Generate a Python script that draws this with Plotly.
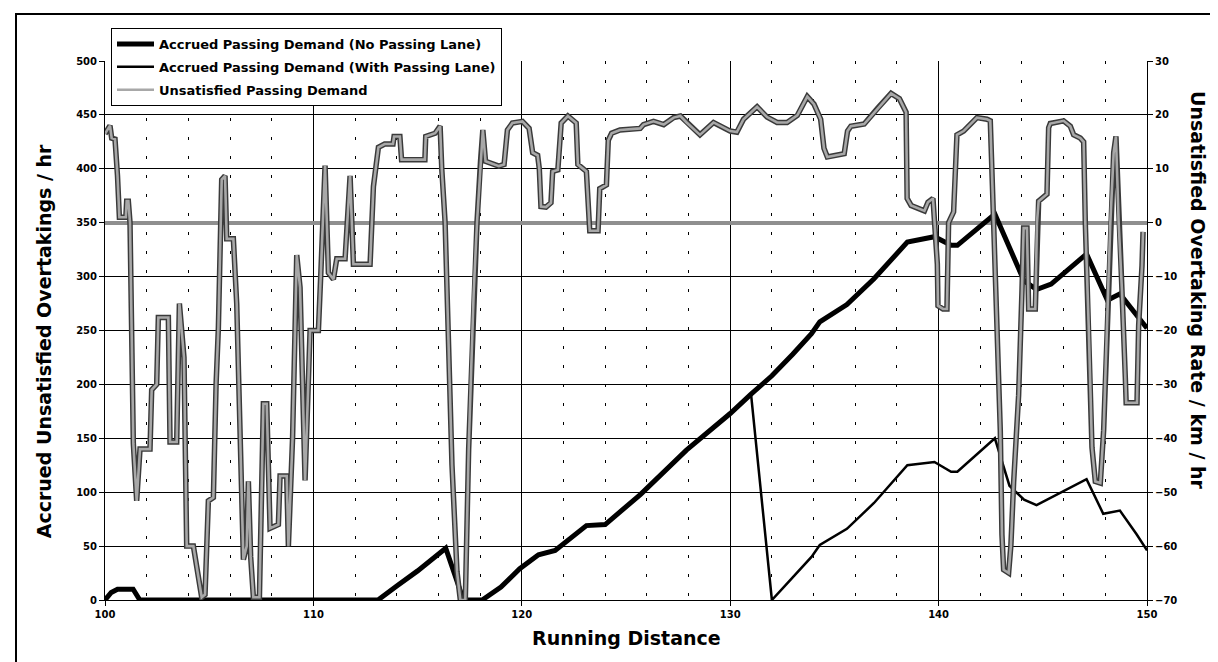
import plotly.graph_objects as go

# ---------------- data ----------------
no_lane_km = [100, 100.3, 100.6, 101.35, 101.67, 113.1, 114, 115, 116.35, 117.2, 118.1,
              119, 119.9, 120.8, 121.6, 122.3, 123.1, 124.0, 125.7, 127.9, 130, 131, 132,
              133, 133.9, 134.3, 135.6, 136.9, 138.5, 139.8, 140.6, 140.9, 142.0, 142.7,
              144.1, 144.7, 145.4, 147.1, 148.1, 148.7, 149.8, 150]
no_lane_demand = [0, 7, 10, 10, 0, 0, 13, 27, 48, 0, 0,
                  12, 29, 42, 46, 57, 69, 70, 98, 139, 173, 191, 208,
                  228, 247, 258, 274, 298, 332, 337, 329, 329, 346, 358,
                  296, 288, 293, 321, 278, 284, 257, 252]

lane_km = [100, 100.3, 100.6, 101.35, 101.67, 113.1, 114, 115, 116.35, 117.2, 118.1,
           119, 119.9, 120.8, 121.6, 122.3, 123.1, 124.0, 125.7, 127.9, 130, 131, 132,
           133, 133.9, 134.3, 135.6, 136.9, 138.5, 139.8, 140.6, 140.9, 142.0, 142.7,
           143.4, 144.1, 144.7, 145.5, 147.1, 147.9, 148.7, 149.5, 150]
lane_demand = [0, 7, 10, 10, 0, 0, 13, 27, 48, 0, 0,
               12, 29, 42, 46, 57, 69, 70, 98, 139, 173, 191, 0,
               21, 40, 51, 66, 90, 125, 128, 119, 119, 138, 150,
               106, 93, 88, 96, 112, 80, 83, 61, 46]

unsat_km = [100.0, 100.08, 100.24, 100.32, 100.48, 100.6, 100.69, 101.0, 101.04, 101.12,
            101.2, 101.36, 101.52, 101.68, 102.16, 102.24, 102.48, 102.56, 103.04, 103.12,
            103.44, 103.57, 103.79, 103.92, 104.24, 104.64, 104.8, 104.96, 105.2, 105.33,
            105.44, 105.6, 105.76, 105.84, 106.16, 106.32, 106.64, 106.8, 106.88, 106.99,
            107.12, 107.41, 107.6, 107.76, 107.92, 108.32, 108.4, 108.72, 108.8, 109.0,
            109.2, 109.36, 109.6, 109.84, 110.24, 110.35, 110.56, 110.72, 110.96, 111.12,
            111.52, 111.76, 111.92, 112.72, 112.88, 113.12, 113.42, 113.82, 113.87, 114.15,
            114.23, 115.35, 115.39, 115.84, 116.08, 116.16, 116.32, 116.65, 116.89, 117.05,
            117.29, 117.45, 117.69, 117.85, 118.02, 118.13, 118.26, 118.9, 119.15, 119.31,
            119.55, 120.03, 120.35, 120.52, 120.76, 120.84, 120.92, 121.16, 121.4, 121.48,
            121.73, 121.89, 122.21, 122.61, 122.69, 123.1, 123.26, 123.66, 123.74, 124.06,
            124.15, 124.31, 124.71, 125.68, 125.84, 126.32, 126.81, 127.29, 127.61, 127.91,
            128.55, 129.2, 130.0, 130.32, 130.64, 131.29, 131.77, 132.25, 132.73, 133.22,
            133.7, 134.02, 134.34, 134.5, 134.66, 135.47, 135.63, 135.79, 136.43, 137.07,
            137.72, 138.12, 138.44, 138.49, 138.68, 139.32, 139.49, 139.73, 139.81, 139.94,
            139.97, 140.21, 140.4, 140.48, 140.72, 140.88, 141.2, 141.52, 141.84, 142.32,
            142.48, 142.64, 142.8, 142.96, 143.04, 143.12, 143.36, 143.47, 143.6, 143.84,
            144.0, 144.08, 144.24, 144.32, 144.64, 144.72, 144.8, 145.2, 145.28, 145.36,
            146.0, 146.32, 146.48, 146.8, 146.96, 147.04, 147.2, 147.36, 147.52, 147.76,
            147.92, 148.08, 148.24, 148.4, 148.51, 148.64, 148.8, 148.96, 149.0, 149.52,
            149.6, 149.76, 149.81]
unsat_rate = [16.5, 17, 18, 15.7, 15.5, 8.7, 1, 1, 4, 4,
              0, -41, -51.6, -42, -42, -31, -30, -17.6, -17.6, -40.7,
              -40.7, -15, -25, -60, -60, -69.5, -69, -51.6, -51, -30,
              -19.5, 8, 8.7, -3, -3, -15, -62.5, -60, -48, -62,
              -69.5, -69.5, -33.6, -33.6, -56.7, -56, -47, -47, -60, -40,
              -6, -12, -47.8, -20, -20, -10, 10.6, -9.3, -10.5, -6.7,
              -6.7, 8.7, -7.7, -7.7, 6.7, 14, 14.6, 14.6, 16, 16,
              11.7, 11.7, 16, 16.6, 17.9, 10, 0, -45, -64.7, -70,
              -70, -42, -13, 0, 11.4, 17.2, 11.4, 10.5, 10.8, 17.2,
              18.5, 18.8, 17.5, 13, 12.5, 10, 3, 2.9, 3.7, 9.5,
              9.8, 18.5, 19.8, 18.5, 10.8, 9.5, -1.5, -1.5, 6.3, 7,
              15.3, 16.6, 17.2, 17.5, 18.2, 18.8, 18.2, 19.5, 19.8, 18.6,
              16.3, 18.6, 17, 16.8, 19.2, 21.5, 19.6, 18.6, 18.6, 19.9,
              23.4, 22, 19.2, 13.8, 12.2, 12.8, 17, 17.9, 18.3, 21.2,
              24, 23, 20.5, 4.5, 3.2, 2.2, 3.8, 4.5, 0, -7.7,
              -15.4, -16, -16, 0, 2, 16.3, 17, 18.3, 19.5, 19.2,
              18.9, 0, -19, -38.5, -57.9, -64.4, -65, -59.8, -48.2, -32,
              -12.7, -1, -1, -16, -16, 0, 4, 5.3, 17.6, 18.4,
              18.9, 17.9, 16.3, 15.7, 15, 0, -19, -41.7, -48, -48.3,
              -38.5, -19, 0, 13, 16, 0, -12.7, -28.8, -33.4, -33.4,
              -19, -8, -1.7]

x_title = "Running Distance"
y_title = "Accrued Unsatisfied Overtakings / hr"
y2_title = "Unsatisfied Overtaking Rate / km / hr"

# ---------------- layout helpers (pixel box of the plot area) ----------------
W, H = 1218, 662
L, R, T, B = 97, 1139, 53, 592


def px(x):
    return (x - L) / (R - L)


def py(y):
    return (B - y) / (B - T)


FONT = "DejaVu Sans"

fig = go.Figure()
fig.add_trace(go.Scatter(
    x=no_lane_km, y=no_lane_demand, mode="lines",
    name="Accrued Passing Demand (No Passing Lane)",
    line=dict(color="black", width=5), legendgroup="a"))
fig.add_trace(go.Scatter(
    x=lane_km, y=lane_demand, mode="lines",
    name="Accrued Passing Demand (With Passing Lane)",
    line=dict(color="black", width=2.5), legendgroup="b"))
fig.add_trace(go.Scatter(
    x=unsat_km, y=unsat_rate, yaxis="y2", mode="lines",
    name="Unsatisfied Passing Demand", showlegend=False,
    line=dict(color="#3a3a3a", width=5.5), legendgroup="c"))
fig.add_trace(go.Scatter(
    x=unsat_km, y=unsat_rate, yaxis="y2", mode="lines",
    name="Unsatisfied Passing Demand",
    line=dict(color="#a8a8a8", width=2.6), legendgroup="c"))

tickfont = dict(family=FONT, size=10, color="black", weight="bold")

fig.update_layout(
    width=W, height=H,
    margin=dict(l=L, r=W - R, t=T, b=H - B, pad=0),
    paper_bgcolor="white", plot_bgcolor="white",
    font=dict(family=FONT, color="black"),
    legend=dict(
        x=px(103), y=py(20), xanchor="left", yanchor="top",
        bgcolor="white", bordercolor="black", borderwidth=1,
        font=dict(family=FONT, size=13, color="black", weight="bold"),
        traceorder="grouped", tracegroupgap=3, itemwidth=37),
    xaxis=dict(
        range=[100, 150], tick0=100, dtick=10,
        showgrid=True, gridcolor="black", gridwidth=1,
        showline=True, linecolor="black", linewidth=1, mirror=False,
        ticks="outside", ticklen=5, tickcolor="black", tickfont=tickfont,
        zeroline=False,
        minor=dict(tick0=100, dtick=2, showgrid=True, gridcolor="black",
                   gridwidth=1, griddash="3px,16px", ticks="")),
    yaxis=dict(
        range=[0, 500], tick0=0, dtick=50,
        showgrid=True, gridcolor="black", gridwidth=1,
        showline=True, linecolor="black", linewidth=1,
        ticks="outside", ticklen=5, tickcolor="black", tickfont=tickfont,
        zeroline=False),
    yaxis2=dict(
        range=[-70, 30], tick0=-70, dtick=10, overlaying="y", side="right",
        showgrid=False, zeroline=True, zerolinecolor="#8f8f8f", zerolinewidth=4,
        showline=True, linecolor="black", linewidth=1,
        ticks="outside", ticklen=5, tickcolor="black", tickfont=tickfont),
    annotations=[
        dict(text=x_title, xref="paper", yref="paper", x=0.5, y=py(630),
             showarrow=False, xanchor="center", yanchor="middle",
             font=dict(family=FONT, size=19, color="black", weight="bold")),
        dict(text=y_title, xref="paper", yref="paper", x=px(36), y=0.48,
             showarrow=False, textangle=-90, xanchor="center", yanchor="middle",
             font=dict(family=FONT, size=19, color="black", weight="bold")),
        dict(text=y2_title, xref="paper", yref="paper", x=px(1190), y=0.575,
             showarrow=False, textangle=90, xanchor="center", yanchor="middle",
             font=dict(family=FONT, size=19, color="black", weight="bold")),
    ],
    shapes=[
        dict(type="rect", xref="paper", yref="paper",
             x0=px(8), x1=px(1211), y0=py(658), y1=py(6),
             line=dict(color="black", width=2), fillcolor="rgba(0,0,0,0)",
             layer="above"),
    ],
)

fig.write_html("out.html")
